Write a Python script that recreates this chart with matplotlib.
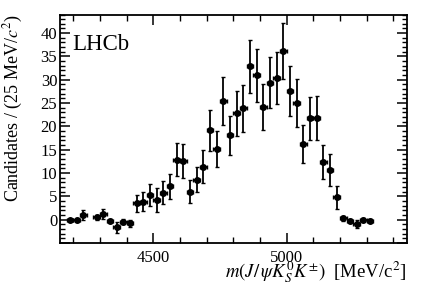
import numpy as np
import matplotlib
matplotlib.use("Agg")
import matplotlib.pyplot as plt
from matplotlib.ticker import MultipleLocator, FuncFormatter

plt.rcParams['font.family'] = ['Liberation Serif', 'DejaVu Serif']
plt.rcParams['mathtext.fontset'] = 'stix'

# bin centres (25 MeV bins), one bin empty
mass = [4187.5, 4212.5, 4237.5, 4287.5, 4312.5, 4337.5, 4362.5, 4387.5, 4412.5,
        4437.5, 4462.5, 4487.5, 4512.5, 4537.5, 4562.5, 4587.5, 4612.5, 4637.5,
        4662.5, 4687.5, 4712.5, 4737.5, 4762.5, 4787.5, 4812.5, 4837.5, 4862.5,
        4887.5, 4912.5, 4937.5, 4962.5, 4987.5, 5012.5, 5037.5, 5062.5, 5087.5,
        5112.5, 5137.5, 5162.5, 5187.5, 5212.5, 5237.5, 5262.5, 5287.5, 5312.5]
counts = [-0.1, 0.0, 1.0, 0.5, 1.2, -0.2, -1.6, -0.4, -0.8,
          3.5, 3.9, 5.3, 4.2, 5.8, 7.2, 12.9, 12.6, 6.0,
          8.6, 11.4, 19.2, 15.1, 25.4, 18.1, 22.8, 23.9, 32.9,
          31.0, 24.2, 29.4, 30.4, 36.1, 27.6, 25.0, 16.2, 21.7,
          21.8, 12.4, 10.6, 4.8, 0.3, -0.2, -0.9, 0.0, -0.2]
errors = [0.2, 0.2, 1.0, 0.6, 1.1, 0.3, 1.2, 0.6, 0.7,
          1.8, 2.1, 2.4, 2.6, 2.5, 2.7, 3.6, 3.7, 2.5,
          2.6, 3.5, 4.4, 3.9, 5.1, 4.2, 4.8, 5.0, 5.7,
          5.7, 4.9, 5.5, 5.6, 6.0, 5.3, 5.1, 4.1, 4.7,
          4.8, 3.7, 3.4, 2.4, 0.5, 0.3, 0.9, 0.3, 0.3]
half_bin = 12.5

fig = plt.figure(figsize=(4.27, 2.90), dpi=100)
ax = fig.add_axes([0.1405, 0.162, 0.812, 0.788])

ax.errorbar(mass, counts, yerr=errors, xerr=half_bin, fmt='o', color='black',
            markersize=4, elinewidth=1.3, capsize=1.3, capthick=1.0)

ax.set_xlim(4150, 5450)
ax.set_ylim(-5, 44)
ax.xaxis.set_major_locator(MultipleLocator(500))
ax.xaxis.set_minor_locator(MultipleLocator(100))
ax.yaxis.set_major_locator(MultipleLocator(5))
ax.yaxis.set_minor_locator(MultipleLocator(1))
# no label on the -5 tick
ax.yaxis.set_major_formatter(FuncFormatter(lambda v, p: '' if v < 0 else f'{v:.0f}'))
ax.tick_params(which='both', direction='in', top=True, right=True, labelsize=12)
ax.tick_params(which='major', length=7, width=1.1)
ax.tick_params(which='minor', length=3.5, width=1.0)
ax.tick_params(axis='x', which='minor', length=4)
ax.tick_params(axis='x', pad=5)
ax.tick_params(axis='y', pad=2)
for s in ax.spines.values():
    s.set_linewidth(1.3)

ax.set_xlabel(r'$m(J/\,\psi K^0_S K^{\pm})$  [MeV/c$^2$]', fontsize=13.5,
              loc='right', labelpad=-5)
ax.set_ylabel(r'Candidates / (25 MeV/$c^2$)', fontsize=13, loc='top')
ax.yaxis.set_label_coords(-0.1, 1.0)

ax.text(0.035, 0.87, 'LHCb', transform=ax.transAxes, fontsize=16.5, va='center')

fig.savefig('out.png', dpi=100)
